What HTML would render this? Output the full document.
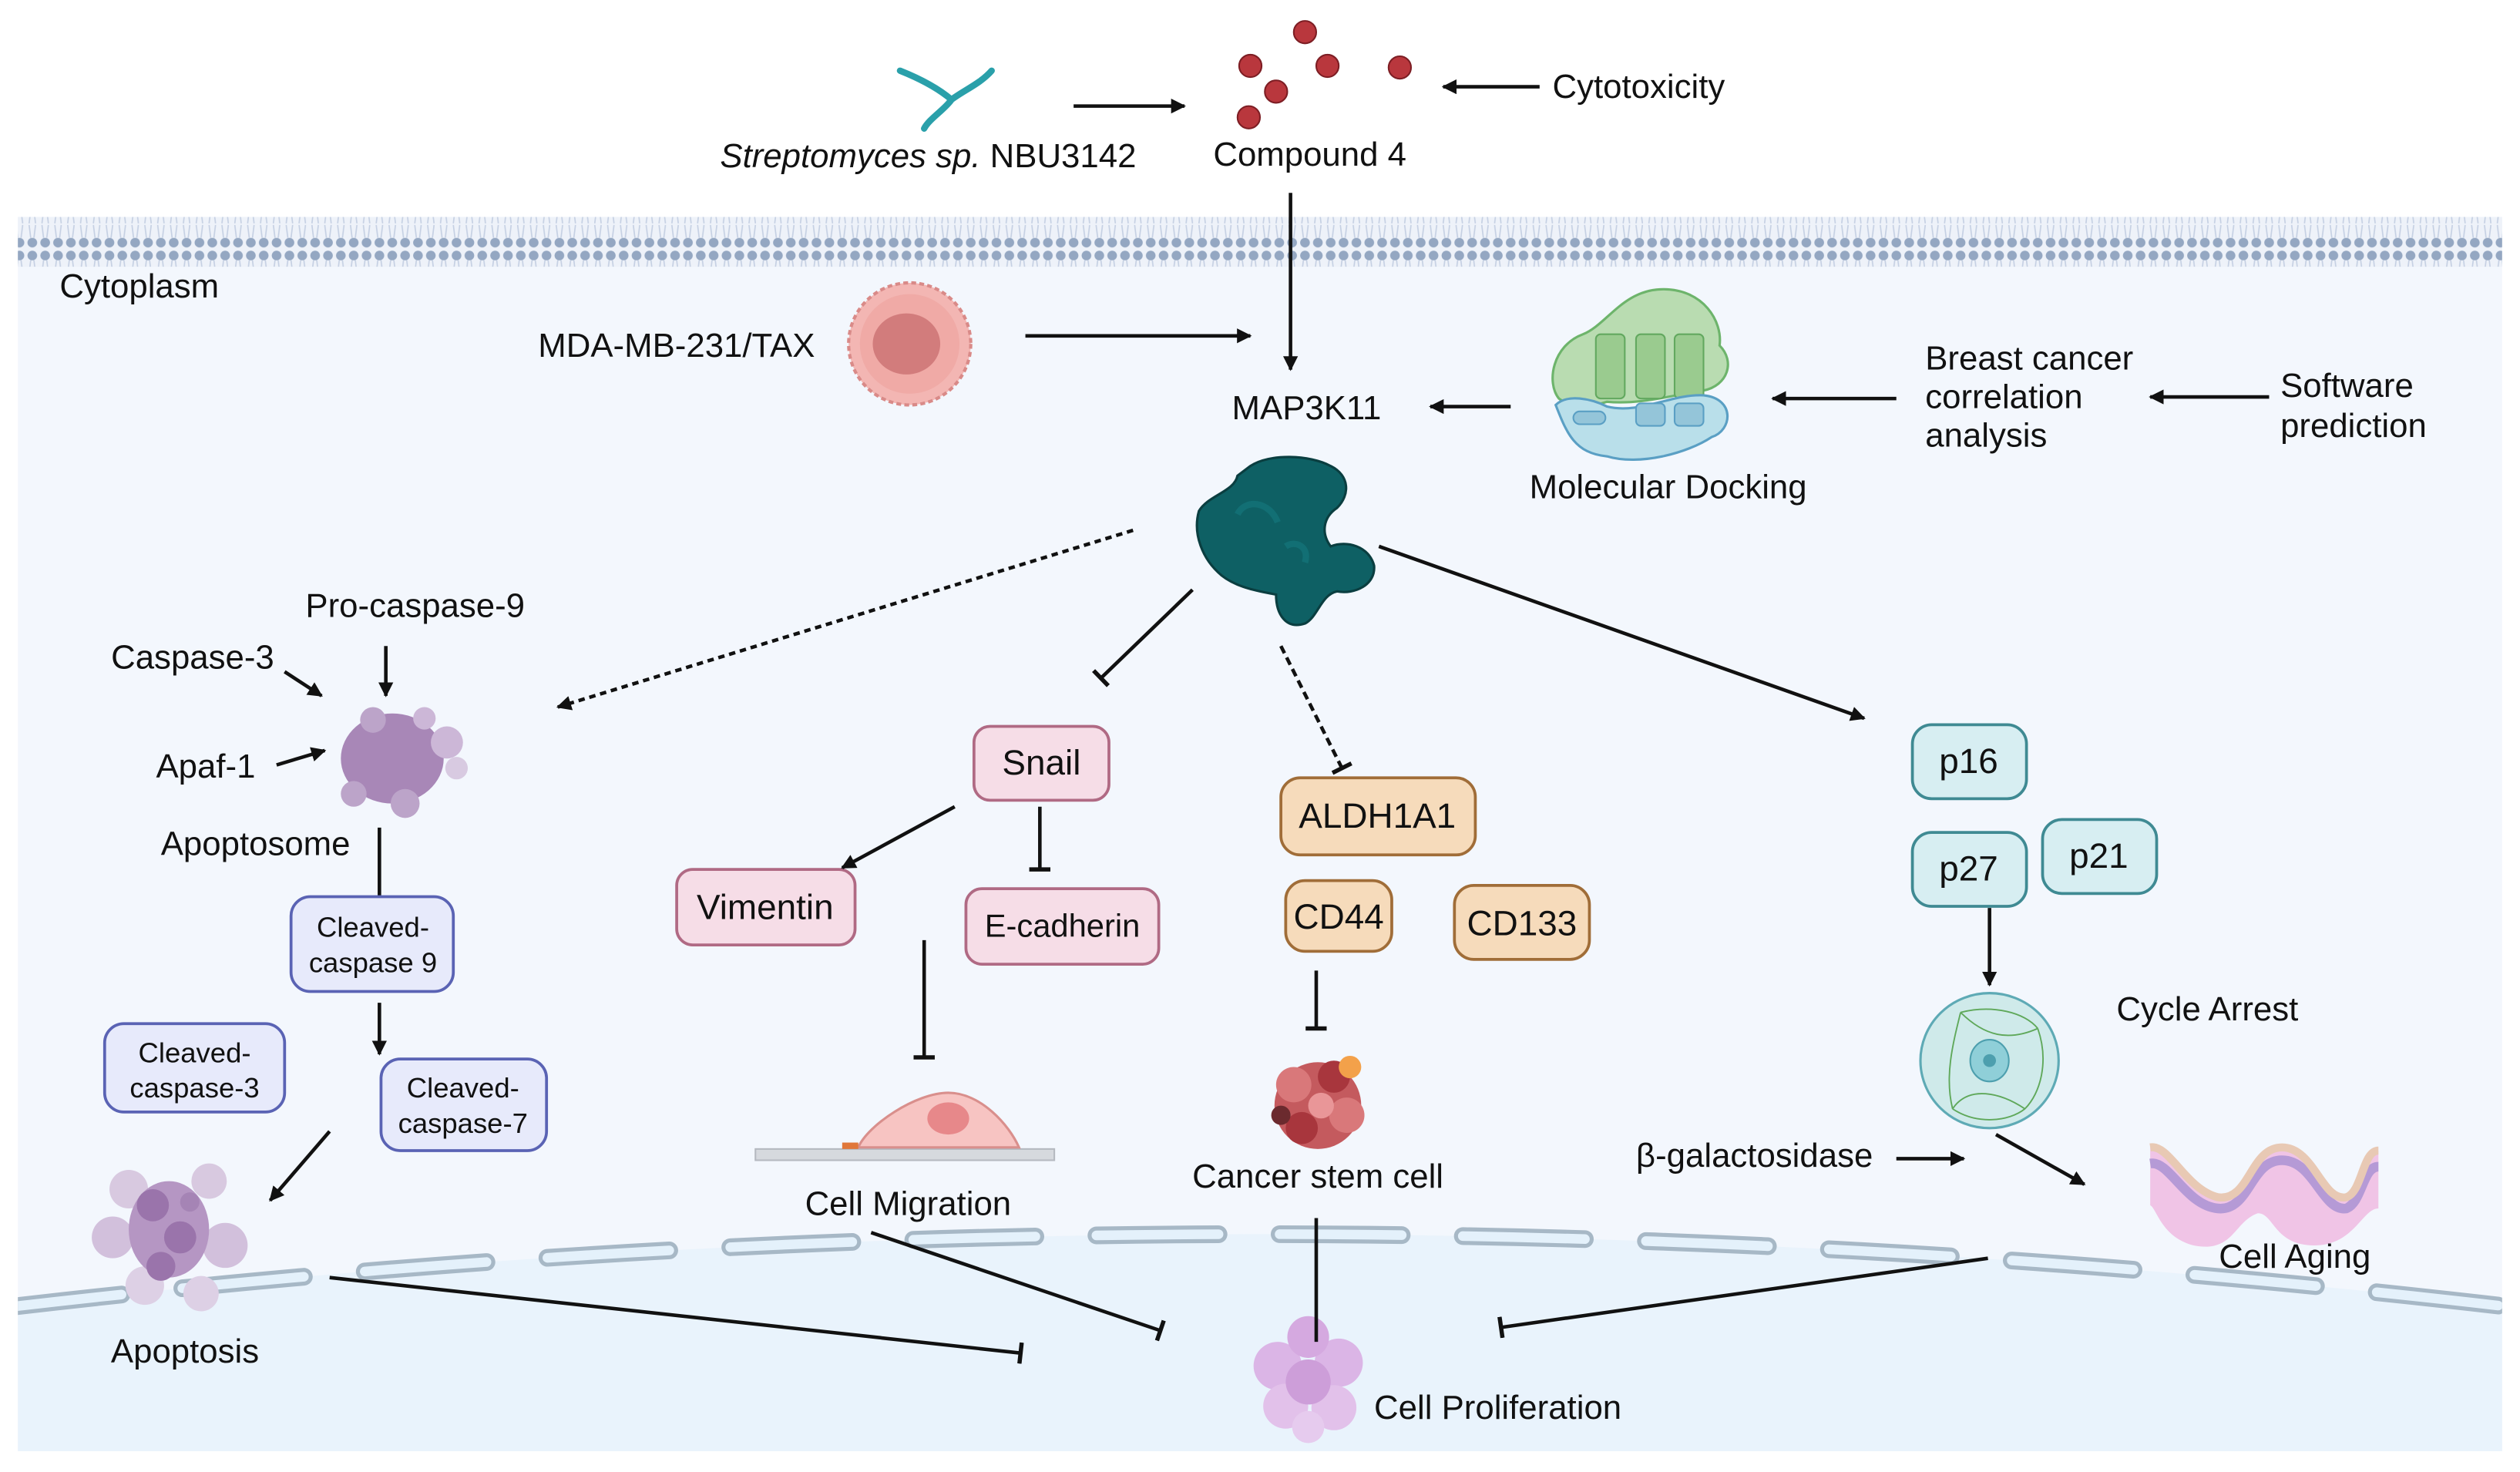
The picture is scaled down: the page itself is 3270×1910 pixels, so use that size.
<!DOCTYPE html>
<html><head><meta charset="utf-8">
<style>
html,body{margin:0;padding:0;background:#fff;}
svg{display:block;}
text{font-family:"Liberation Sans",sans-serif;fill:#111;}
</style></head>
<body>
<svg width="3270" height="1910" viewBox="0 0 1568 916" xmlns="http://www.w3.org/2000/svg">
<defs>
<marker id="ah" viewBox="0 0 10 10" refX="9" refY="5" markerWidth="4.2" markerHeight="4.2" orient="auto" markerUnits="strokeWidth">
<path d="M0,0 L10,5 L0,10 z" fill="#111"/></marker>
<marker id="bar" viewBox="0 0 10 10" refX="5" refY="5" markerWidth="6" markerHeight="6" orient="auto" markerUnits="strokeWidth">
<path d="M5,0 L5,10" stroke="#111" stroke-width="2"/></marker>
<pattern id="mem" width="8" height="31" patternUnits="userSpaceOnUse">
<rect width="8" height="31" fill="#eef2f9"/>
<circle cx="4" cy="4" r="3" fill="#94a7c2"/>
<circle cx="4" cy="27" r="3" fill="#94a7c2"/>
<path d="M3,7 L2,15 M5,7 L6,15 M3,24 L2,16 M5,24 L6,16" stroke="#c5d0e3" stroke-width="0.8"/>
</pattern>
<clipPath id="panel"><rect x="11" y="136" width="1546" height="767"/></clipPath>
</defs>

<rect x="11" y="136" width="1546" height="767" fill="#f3f7fd"/>
<g clip-path="url(#panel)">
<path d="M0,814 Q784,722 1568,814 L1568,916 L0,916 z" fill="#e9f3fc"/>
<path d="M0,814 Q784,722 1568,814" fill="none" stroke="#a7b8c6" stroke-width="11" stroke-dasharray="76 38" stroke-linecap="round"/>
<path d="M0,814 Q784,722 1568,814" fill="none" stroke="#e4f1fb" stroke-width="6" stroke-dasharray="76 38" stroke-linecap="round"/>
</g>
<rect x="11" y="135" width="1546" height="31" fill="url(#mem)"/>

<path d="M560,44 C575,50 585,56 592,62 C600,56 610,52 617,44 M592,62 C588,68 578,74 575,80" fill="none" stroke="#2aa0aa" stroke-width="4" stroke-linecap="round"/>
<text x="448" y="104" font-size="21"><tspan font-style="italic">Streptomyces sp.</tspan> NBU3142</text>
<line x1="668" y1="66" x2="737" y2="66" stroke="#111" stroke-width="2.2" marker-end="url(#ah)"/>
<g fill="#b9373d" stroke="#7d1e24" stroke-width="1">
<circle cx="812" cy="20" r="7"/><circle cx="778" cy="41" r="7"/><circle cx="826" cy="41" r="7"/>
<circle cx="794" cy="57" r="7"/><circle cx="777" cy="73" r="7"/><circle cx="871" cy="42" r="7"/></g>
<text x="815" y="103" font-size="21" text-anchor="middle">Compound 4</text>
<line x1="958" y1="54" x2="898" y2="54" stroke="#111" stroke-width="2.2" marker-end="url(#ah)"/>
<text x="966" y="61" font-size="21">Cytotoxicity</text>

<line x1="803" y1="120" x2="803" y2="230" stroke="#111" stroke-width="2.2" marker-end="url(#ah)"/>
<text x="37" y="185" font-size="21">Cytoplasm</text>

<text x="507" y="222" font-size="21" text-anchor="end">MDA-MB-231/TAX</text>
<circle cx="566" cy="214" r="38" fill="#f3b6b3" stroke="#d98a88" stroke-width="2" stroke-dasharray="3 2"/>
<circle cx="566" cy="214" r="31" fill="#f0aaa6"/>
<ellipse cx="564" cy="214" rx="21" ry="19" fill="#d27c7c"/>
<line x1="638" y1="209" x2="778" y2="209" stroke="#111" stroke-width="2.2" marker-end="url(#ah)"/>

<text x="813" y="261" font-size="21" text-anchor="middle">MAP3K11</text>
<line x1="940" y1="253" x2="890" y2="253" stroke="#111" stroke-width="2.2" marker-end="url(#ah)"/>

<path d="M970,248 C962,238 966,215 985,208 C1000,202 1010,180 1035,180 C1060,180 1072,200 1070,215 C1080,225 1075,240 1060,243 C1040,246 1020,252 1000,250 C985,255 975,252 970,248 z" fill="#b9dcb1" stroke="#6db46b" stroke-width="1.5"/>
<rect x="993" y="208" width="18" height="40" rx="3" fill="#9acb8f" stroke="#62a85f"/>
<rect x="1018" y="208" width="18" height="40" rx="3" fill="#9acb8f" stroke="#62a85f"/>
<rect x="1042" y="208" width="18" height="40" rx="3" fill="#9acb8f" stroke="#62a85f"/>
<path d="M968,252 C975,245 990,248 1000,253 C1020,258 1040,245 1060,246 C1080,248 1078,268 1065,272 C1050,282 1020,290 1000,284 C980,282 975,270 968,252 z" fill="#b9dfea" stroke="#5a9fc4" stroke-width="1.5"/>
<rect x="979" y="256" width="20" height="8" rx="4" fill="#94c5d9" stroke="#5a9fc4"/>
<rect x="1018" y="251" width="18" height="14" rx="3" fill="#94c5d9" stroke="#5a9fc4"/>
<rect x="1042" y="251" width="18" height="14" rx="3" fill="#94c5d9" stroke="#5a9fc4"/>
<text x="1038" y="310" font-size="21" text-anchor="middle">Molecular Docking</text>
<line x1="1180" y1="248" x2="1103" y2="248" stroke="#111" stroke-width="2.2" marker-end="url(#ah)"/>
<text font-size="21"><tspan x="1198" y="230">Breast cancer</tspan><tspan x="1198" y="254">correlation</tspan><tspan x="1198" y="278">analysis</tspan></text>
<line x1="1412" y1="247" x2="1338" y2="247" stroke="#111" stroke-width="2.2" marker-end="url(#ah)"/>
<text font-size="21"><tspan x="1419" y="247">Software</tspan><tspan x="1419" y="272">prediction</tspan></text>

<path d="M778,290 C790,282 815,283 828,290 C840,296 840,308 832,316 C823,322 822,332 828,340 C838,336 852,340 855,352 C856,364 843,370 832,368 C822,370 820,384 812,388 C800,392 794,382 794,370 C784,368 770,366 760,358 C748,348 742,332 746,318 C752,308 768,306 770,296 z" fill="#0e6064" stroke="#0a3e40" stroke-width="1.5"/>
<path d="M770,320 C775,310 790,312 795,325 M800,340 C806,336 815,340 812,350" fill="none" stroke="#157a7e" stroke-width="4" opacity="0.6"/>

<line x1="705" y1="330" x2="347" y2="440" stroke="#111" stroke-width="2.2" stroke-dasharray="4 3" marker-end="url(#ah)"/>
<line x1="742" y1="367" x2="685" y2="422" stroke="#111" stroke-width="2.2" marker-end="url(#bar)"/>
<line x1="797" y1="402" x2="835" y2="478" stroke="#111" stroke-width="2.2" stroke-dasharray="5 3" marker-end="url(#bar)"/>
<line x1="858" y1="340" x2="1160" y2="447" stroke="#111" stroke-width="2.2" marker-end="url(#ah)"/>

<text x="190" y="384" font-size="21">Pro-caspase-9</text>
<line x1="240" y1="402" x2="240" y2="433" stroke="#111" stroke-width="2.2" marker-end="url(#ah)"/>
<text x="69" y="416" font-size="21">Caspase-3</text>
<line x1="177" y1="418" x2="200" y2="433" stroke="#111" stroke-width="2.2" marker-end="url(#ah)"/>
<text x="97" y="484" font-size="21">Apaf-1</text>
<line x1="172" y1="476" x2="202" y2="467" stroke="#111" stroke-width="2.2" marker-end="url(#ah)"/>
<g fill="#a07bb0" opacity="0.9">
<ellipse cx="244" cy="472" rx="32" ry="28"/>
<circle cx="278" cy="462" r="10" fill="#c8b1d3"/><circle cx="284" cy="478" r="7" fill="#d6c6df"/>
<circle cx="220" cy="494" r="8" fill="#b79cc4"/><circle cx="252" cy="500" r="9" fill="#b79cc4"/>
<circle cx="232" cy="448" r="8" fill="#b79cc4"/><circle cx="264" cy="447" r="7" fill="#c8b1d3"/>
</g>
<text x="100" y="532" font-size="21">Apoptosome</text>
<line x1="236" y1="515" x2="236" y2="567" stroke="#111" stroke-width="2.2" marker-end="url(#ah)"/>
<g font-size="17.5" text-anchor="middle">
<rect x="181" y="558" width="101" height="59" rx="12" fill="#e7eafb" stroke="#5a63b4" stroke-width="1.8"/>
<text x="232" y="583">Cleaved-</text><text x="232" y="605">caspase 9</text>
<rect x="65" y="637" width="112" height="55" rx="12" fill="#e7eafb" stroke="#5a63b4" stroke-width="1.8"/>
<text x="121" y="661">Cleaved-</text><text x="121" y="683">caspase-3</text>
<rect x="237" y="659" width="103" height="57" rx="12" fill="#e7eafb" stroke="#5a63b4" stroke-width="1.8"/>
<text x="288" y="683">Cleaved-</text><text x="288" y="705">caspase-7</text>
</g>
<line x1="236" y1="624" x2="236" y2="656" stroke="#111" stroke-width="2.2" marker-end="url(#ah)"/>
<line x1="205" y1="704" x2="168" y2="747" stroke="#111" stroke-width="2.2" marker-end="url(#ah)"/>
<g>
<circle cx="80" cy="740" r="12" fill="#d8c9e0"/><circle cx="130" cy="735" r="11" fill="#d8c9e0"/>
<circle cx="70" cy="770" r="13" fill="#d2c0dc"/><circle cx="140" cy="775" r="14" fill="#d2c0dc"/>
<circle cx="90" cy="800" r="12" fill="#ddd0e5"/><circle cx="125" cy="805" r="11" fill="#ddd0e5"/>
<ellipse cx="105" cy="765" rx="25" ry="30" fill="#b596c3"/>
<circle cx="95" cy="750" r="10" fill="#9a74ab"/><circle cx="112" cy="770" r="10" fill="#9a74ab"/>
<circle cx="100" cy="788" r="9" fill="#9a74ab"/><circle cx="118" cy="748" r="6" fill="#a584b5"/>
</g>
<text x="115" y="848" font-size="21" text-anchor="middle">Apoptosis</text>

<g font-size="22" text-anchor="middle">
<rect x="606" y="452" width="84" height="46" rx="10" fill="#f6dde7" stroke="#b06a84" stroke-width="1.8"/>
<text x="648" y="482">Snail</text>
<rect x="421" y="541" width="111" height="47" rx="10" fill="#f6dde7" stroke="#b06a84" stroke-width="1.8"/>
<text x="476" y="572">Vimentin</text>
<rect x="601" y="553" width="120" height="47" rx="10" fill="#f6dde7" stroke="#b06a84" stroke-width="1.8"/>
<text x="661" y="583" font-size="20">E-cadherin</text>
</g>
<line x1="594" y1="502" x2="524" y2="540" stroke="#111" stroke-width="2.2" marker-end="url(#ah)"/>
<line x1="647" y1="502" x2="647" y2="541" stroke="#111" stroke-width="2.2" marker-end="url(#bar)"/>
<line x1="575" y1="585" x2="575" y2="658" stroke="#111" stroke-width="2.2" marker-end="url(#bar)"/>
<rect x="470" y="715" width="186" height="7" fill="#d6d9de" stroke="#b5b9c0"/>
<path d="M534,714 C540,700 570,680 590,680 C610,680 628,700 634,714 z" fill="#f7c4c2" stroke="#d98f8c" stroke-width="1.5"/>
<ellipse cx="590" cy="696" rx="13" ry="10" fill="#e7888a"/>
<rect x="524" y="711" width="10" height="4" fill="#e0773a"/>
<text x="565" y="756" font-size="21" text-anchor="middle">Cell Migration</text>

<g font-size="22" text-anchor="middle">
<rect x="797" y="484" width="121" height="48" rx="12" fill="#f6dbbb" stroke="#a06d38" stroke-width="1.8"/>
<text x="857" y="515">ALDH1A1</text>
<rect x="800" y="548" width="66" height="44" rx="12" fill="#f6dbbb" stroke="#a06d38" stroke-width="1.8"/>
<text x="833" y="578">CD44</text>
<rect x="905" y="551" width="84" height="46" rx="12" fill="#f6dbbb" stroke="#a06d38" stroke-width="1.8"/>
<text x="947" y="582">CD133</text>
</g>
<line x1="819" y1="604" x2="819" y2="640" stroke="#111" stroke-width="2.2" marker-end="url(#bar)"/>
<g>
<circle cx="820" cy="688" r="27" fill="#c45a5e"/>
<circle cx="805" cy="675" r="11" fill="#d9787a"/><circle cx="830" cy="670" r="10" fill="#a8363d"/>
<circle cx="838" cy="694" r="11" fill="#d9787a"/><circle cx="810" cy="702" r="10" fill="#a8363d"/>
<circle cx="822" cy="688" r="8" fill="#e99698"/>
<circle cx="840" cy="664" r="7" fill="#f3a14a"/><circle cx="797" cy="694" r="6" fill="#6b2a2e"/>
</g>
<text x="820" y="739" font-size="21" text-anchor="middle">Cancer stem cell</text>

<g font-size="22" text-anchor="middle">
<rect x="1190" y="451" width="71" height="46" rx="12" fill="#d7eef2" stroke="#3f8a93" stroke-width="1.8"/>
<text x="1225" y="481">p16</text>
<rect x="1190" y="518" width="71" height="46" rx="12" fill="#d7eef2" stroke="#3f8a93" stroke-width="1.8"/>
<text x="1225" y="548">p27</text>
<rect x="1271" y="510" width="71" height="46" rx="12" fill="#d7eef2" stroke="#3f8a93" stroke-width="1.8"/>
<text x="1306" y="540">p21</text>
</g>
<line x1="1238" y1="565" x2="1238" y2="613" stroke="#111" stroke-width="2.2" marker-end="url(#ah)"/>
<ellipse cx="1238" cy="660" rx="43" ry="42" fill="#cfeaea" stroke="#5eaab5" stroke-width="1.5"/>
<ellipse cx="1238" cy="660" rx="12" ry="13" fill="#8fcfd8" stroke="#4d9fae"/>
<circle cx="1238" cy="660" r="4" fill="#4d9fae"/>
<g stroke="#5fa85a" stroke-width="0.9" fill="none">
<path d="M1220,630 C1240,625 1260,630 1268,640 M1220,630 C1215,650 1210,670 1215,690 M1268,640 C1275,660 1270,680 1260,690 M1215,690 C1230,700 1250,698 1260,690 M1220,630 C1235,645 1250,648 1268,640 M1215,690 C1225,675 1245,680 1260,690"/>
</g>
<text x="1317" y="635" font-size="21">Cycle Arrest</text>
<text x="1018" y="726" font-size="21">β-galactosidase</text>
<line x1="1180" y1="721" x2="1222" y2="721" stroke="#111" stroke-width="2.2" marker-end="url(#ah)"/>
<line x1="1242" y1="706" x2="1297" y2="737" stroke="#111" stroke-width="2.2" marker-end="url(#ah)"/>
<path d="M1338,714 C1350,712 1360,740 1380,745 C1400,748 1400,714 1420,714 C1440,714 1445,748 1460,745 C1470,742 1470,716 1480,716 L1480,752 C1470,752 1465,775 1440,775 C1415,775 1415,755 1405,755 C1390,760 1390,780 1365,775 C1345,770 1342,752 1338,750 z" fill="#f0c4e6"/>
<path d="M1338,724 C1350,722 1360,750 1380,752 C1400,754 1400,722 1420,722 C1440,722 1445,754 1460,752 C1470,748 1470,726 1480,726" fill="none" stroke="#b59ad6" stroke-width="6"/>
<path d="M1338,714 C1350,712 1360,740 1380,745 C1400,748 1400,714 1420,714 C1440,714 1445,748 1460,745 C1470,742 1470,716 1480,716" fill="none" stroke="#e8c9b4" stroke-width="5"/>
<text x="1428" y="789" font-size="21" text-anchor="middle">Cell Aging</text>

<line x1="205" y1="795" x2="635" y2="842" stroke="#111" stroke-width="2.2" marker-end="url(#bar)"/>
<line x1="542" y1="767" x2="722" y2="828" stroke="#111" stroke-width="2.2" marker-end="url(#bar)"/>
<line x1="1237" y1="783" x2="934" y2="826" stroke="#111" stroke-width="2.2" marker-end="url(#bar)"/>
<g>
<circle cx="795" cy="850" r="15" fill="#dbb5e6"/><circle cx="833" cy="848" r="15" fill="#dbb5e6"/>
<circle cx="800" cy="875" r="14" fill="#e2c1ea"/><circle cx="830" cy="876" r="14" fill="#e2c1ea"/>
<circle cx="814" cy="832" r="13" fill="#d5a9e0"/><circle cx="814" cy="860" r="14" fill="#cd9ed9"/>
<circle cx="814" cy="888" r="10" fill="#e6cbee"/>
</g>
<line x1="819" y1="758" x2="819" y2="835" stroke="#111" stroke-width="2.2"/>
<text x="855" y="883" font-size="21">Cell Proliferation</text>
</svg>
</body></html>
